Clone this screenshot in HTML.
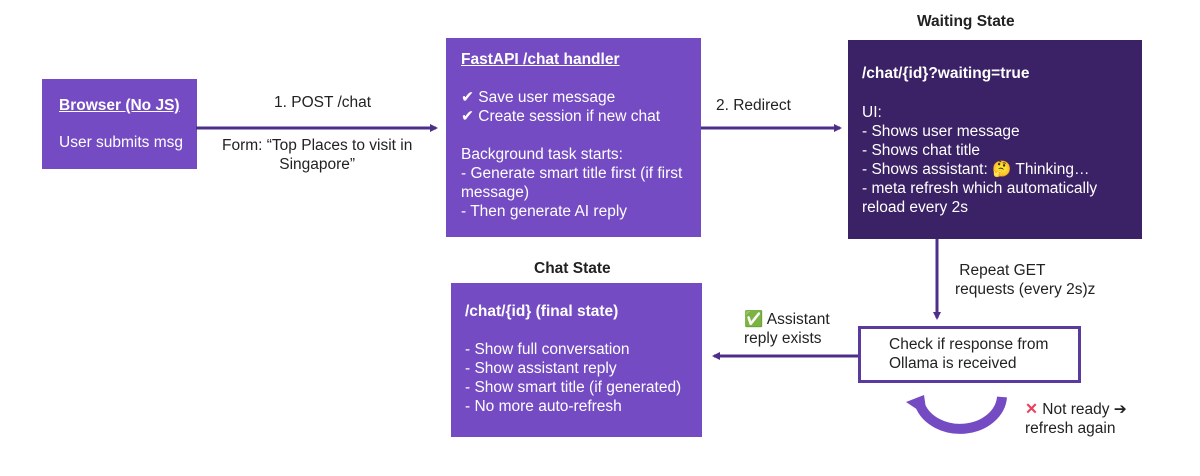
<!DOCTYPE html>
<html><head><meta charset="utf-8"><style>
body{margin:0;width:1200px;height:476px;background:#fff;position:relative;font-family:"Liberation Sans",sans-serif;overflow:hidden}
.b{position:absolute;box-sizing:border-box;color:#fff;font-size:15.5px;letter-spacing:0}
.t{position:absolute;font-size:15.5px;color:#222;white-space:nowrap}
.l{position:absolute;white-space:nowrap;line-height:19px}
u{text-decoration:underline}
</style></head><body>
<div class="b" style="left:42px;top:79px;width:155px;height:90px;background:#744bc3">
<div class="l" style="left:17px;top:17px;font-weight:bold"><u>Browser (No JS)</u></div>
<div class="l" style="left:17px;top:54px">User submits msg</div>
</div>
<div class="b" style="left:446px;top:38px;width:255px;height:199px;background:#744bc3">
<div class="l" style="left:15px;top:12px;font-weight:bold"><u>FastAPI /chat handler</u></div>
<div class="l" style="left:15px;top:50px">✔ Save user message<br>✔ Create session if new chat</div>
<div class="l" style="left:15px;top:107px">Background task starts:<br>- Generate smart title first (if first<br>message)<br>- Then generate AI reply</div>
</div>
<div class="b" style="left:848px;top:40px;width:294px;height:199px;background:#3b2165">
<div class="l" style="left:14px;top:24px;font-weight:bold">/chat/{id}?waiting=true</div>
<div class="l" style="left:14px;top:63px">UI:<br>- Shows user message<br>- Shows chat title<br>- Shows assistant: 🤔 Thinking…<br>- meta refresh which automatically<br>reload every 2s</div>
</div>
<div class="b" style="left:451px;top:283px;width:251px;height:154px;background:#744bc3">
<div class="l" style="left:14px;top:19px;font-weight:bold">/chat/{id} (final state)</div>
<div class="l" style="left:14px;top:57px">- Show full conversation<br>- Show assistant reply<br>- Show smart title (if generated)<br>- No more auto-refresh</div>
</div>
<div class="b" style="left:858px;top:326px;width:223px;height:57px;border:3px solid #5b3a9e;background:#fff;color:#222">
<div class="l" style="left:28px;top:6px">Check if response from<br>Ollama is received</div>
</div>
<div class="t" style="left:917px;top:13px;font-weight:bold">Waiting State</div>
<div class="t" style="left:534px;top:260px;font-weight:bold">Chat State</div>
<div class="t" style="left:274px;top:94px">1. POST /chat</div>
<div class="t" style="left:222px;top:136px;text-align:center;line-height:19px">Form: “Top Places to visit in<br>Singapore”</div>
<div class="t" style="left:716px;top:97px">2. Redirect</div>
<div class="t" style="left:955px;top:261px;line-height:19px">&nbsp;Repeat GET<br>requests (every 2s)z</div>
<div class="t" style="left:744px;top:310px;line-height:19px"><span style="color:#3bb14a">✅</span> Assistant<br>reply exists</div>
<div class="t" style="left:1025px;top:400px;line-height:19px"><span style="color:#e8415e;font-weight:bold">✕</span> Not ready ➔<br>refresh again</div>
<svg style="position:absolute;left:0;top:0" width="1200" height="476">
<defs><marker id="a" markerWidth="8" markerHeight="8" refX="6" refY="4" orient="auto" markerUnits="userSpaceOnUse"><path d="M0,0 L8,4 L0,8z" fill="#4d2f8a"/></marker></defs>
<g stroke="#4d2f8a" stroke-width="3" fill="none">
<line x1="196" y1="128" x2="436" y2="128" marker-end="url(#a)"/>
<line x1="701" y1="128" x2="840" y2="128" marker-end="url(#a)"/>
<line x1="937" y1="239" x2="937" y2="318" marker-end="url(#a)"/>
<line x1="858" y1="356" x2="714" y2="356" marker-end="url(#a)"/>
</g>
<path d="M1002,397 A42,34 0 0 1 920,405" stroke="#744bc3" stroke-width="10" fill="none"/>
<path d="M906,402 L924,395 L927,416z" fill="#744bc3"/>
</svg>
</body></html>
